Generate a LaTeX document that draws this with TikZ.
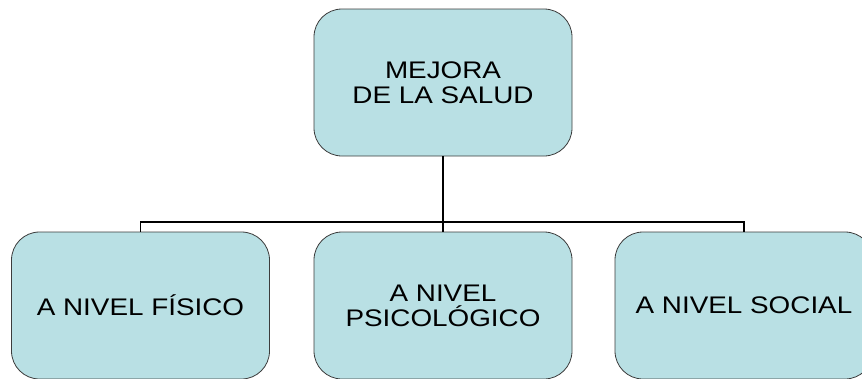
\documentclass[tikz,border=0pt]{standalone}
\usepackage{fontspec}
\setmainfont{Liberation Sans}[FakeStretch=1.16]
\usetikzlibrary{positioning, calc}
\definecolor{boxblue}{RGB}{185,224,228}
\definecolor{boxline}{RGB}{60,60,60}

\begin{document}
\begin{tikzpicture}[x=1pt, y=-1pt,
    levelbox/.style={draw=boxline, line width=0.8pt, fill=boxblue, rounded corners=28pt,
        minimum width=258pt, minimum height=147pt, align=center, inner sep=0pt,
        font=\fontsize{24}{25}\selectfont},
    link/.style={line width=1.6pt, black}]
    \useasboundingbox (0,0) rectangle (862,378);

    % Top: goal
    \node[levelbox] (salud) at (443, 82.5) {MEJORA\\DE LA SALUD};

    % Bottom: three levels
    \node[levelbox] (fisico) at (140.5, 305.5) {A NIVEL F\'ISICO};
    \node[levelbox] (psico) at (443, 305.5) {A NIVEL\\PSICOL\'OGICO};
    \node[levelbox] (social) at (744, 305.5) {A NIVEL SOCIAL};

    % Connectors
    \coordinate (bar) at (443, 222);
    \draw[link] (salud.south) -- (bar);
    \draw[link] (fisico.north) |- (bar) -| (social.north);
    \draw[link] (bar) -- (psico.north);
\end{tikzpicture}
\end{document}
